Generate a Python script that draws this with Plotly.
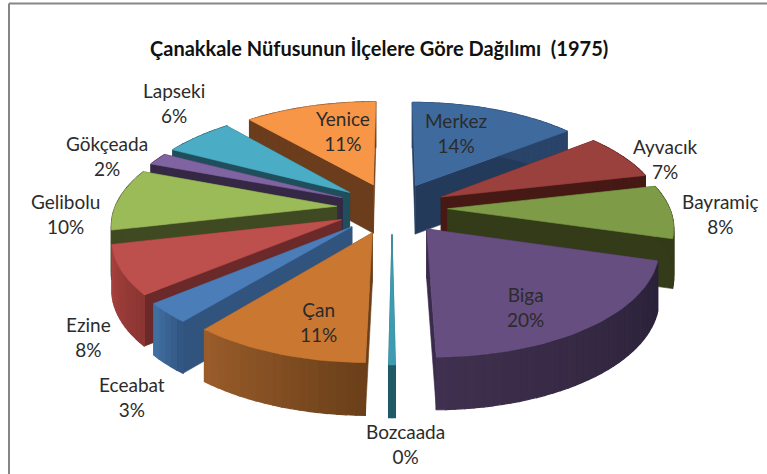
import math
import plotly.graph_objects as go

categories = ["Merkez", "Ayvacık", "Bayramiç", "Biga", "Bozcaada", "Çan",
              "Eceabat", "Ezine", "Gelibolu", "Gökçeada", "Lapseki", "Yenice"]
values = [14.3, 7.1, 8.2, 20.3, 0.4, 10.7, 3.0, 7.5, 9.5, 1.9, 6.0, 11.3]
percent_labels = ["14%", "7%", "8%", "20%", "0%", "11%", "3%", "8%", "10%", "2%", "6%", "11%"]

top_colors = ["#3E6A9E", "#9A403D", "#7E9B47", "#674E80", "#3E9CB2", "#C97731",
              "#4B7DB9", "#BD4F4C", "#9BBB59", "#8064A2", "#4BACC6", "#F79646"]
wall_colors = ["#243A5B", "#461914", "#333B18", "#3A2A4C", "#1F5A66", "#6A3F1A",
               "#31547F", "#6B2A29", "#404A22", "#342844", "#1F4F5C", "#6B3D1C"]
outer_start = ["#2A4368", "#461914", "#333B18", "#2A2138", "#1F5A66", "#6A3F1A",
               "#31547F", "#8A3532", "#404A22", "#342844", "#1F4F5C", "#6B3D1C"]
outer_end = ["#2A4368", "#461914", "#333B18", "#40304F", "#1F5A66", "#9A5D2A",
             "#4272A6", "#A8423F", "#404A22", "#342844", "#1F4F5C", "#6B3D1C"]

label_pos = [(456, 133), (665, 159), (720, 214), (525, 307), (405, 444), (318, 322),
             (132, 397), (88, 337), (65, 214), (107, 156), (174, 103), (343, 131)]

CX, CY, RX, RY, K, EXPLODE = 392.0, 208.0, 222.0, 102.0, 0.15, 0.25


def project(X, Y):
    s = 1.0 / (1.0 + K * Y)
    return CX + RX * X * s, CY - RY * Y * s


def depth(Y):
    return 49.0 - 3.0 * Y


def mix(c1, c2, t):
    a = [int(c1[i:i + 2], 16) for i in (1, 3, 5)]
    b = [int(c2[i:i + 2], 16) for i in (1, 3, 5)]
    return "rgb(%d,%d,%d)" % tuple(round(a[i] + (b[i] - a[i]) * t) for i in range(3))


def poly(fig, pts, color, width=0.6):
    fig.add_trace(go.Scatter(
        x=[p[0] for p in pts] + [pts[0][0]],
        y=[p[1] for p in pts] + [pts[0][1]],
        mode="lines", fill="toself", fillcolor=color,
        line=dict(color=color, width=width),
        hoverinfo="skip", showlegend=False))


total = sum(values)
slices = []
acc = 0.0
for i, v in enumerate(values):
    a0 = acc / total * 2 * math.pi
    acc += v
    a1 = acc / total * 2 * math.pi
    mid = (a0 + a1) / 2
    ox, oy = EXPLODE * math.sin(mid), EXPLODE * math.cos(mid)
    slices.append(dict(i=i, a0=a0, a1=a1, ox=ox, oy=oy))

fig = go.Figure()

# painter's order: far slices first
for sl in sorted(slices, key=lambda q: -(q["oy"] + 0.6 * math.cos((q["a0"] + q["a1"]) / 2))):
    i, a0, a1, ox, oy = sl["i"], sl["a0"], sl["a1"], sl["ox"], sl["oy"]
    n = max(2, int((a1 - a0) / math.radians(2)))
    arc = []
    for j in range(n + 1):
        a = a0 + (a1 - a0) * j / n
        arc.append((ox + math.sin(a), oy + math.cos(a)))
    apex = (ox, oy)

    def down(P):
        x, y = project(*P)
        return x, y + depth(P[1])

    for edge in (arc[0], arc[-1]):
        poly(fig, [project(*apex), project(*edge), down(edge), down(apex)], wall_colors[i])
    for j in range(n):
        P, Q = arc[j], arc[j + 1]
        poly(fig, [project(*P), project(*Q), down(Q), down(P)],
             mix(outer_start[i], outer_end[i], (j + 0.5) / n), width=1.2)
    poly(fig, [project(*apex)] + [project(*p) for p in arc], top_colors[i])

annotations = [dict(x=378.5, y=48, text="<b>Çanakkale Nüfusunun İlçelere Göre Dağılımı  (1975)</b>",
                    showarrow=False, font=dict(family="Lato", size=20, color="#111111"))]
for name, pct, (lx, ly) in zip(categories, percent_labels, label_pos):
    annotations.append(dict(x=lx, y=ly, text=f"{name}<br>{pct}", showarrow=False, align="center",
                            font=dict(family="Lato", size=19, color="#2b2b2b")))

fig.update_layout(
    width=767, height=474, margin=dict(l=0, r=0, t=0, b=0),
    paper_bgcolor="white", plot_bgcolor="white", showlegend=False,
    xaxis=dict(range=[0, 767], visible=False, fixedrange=True),
    yaxis=dict(range=[474, 0], visible=False, fixedrange=True),
    annotations=annotations,
    shapes=[dict(type="line", x0=9, x1=767, y0=3.5, y1=3.5, line=dict(color="#868686", width=2)),
            dict(type="line", x0=9, x1=9, y0=3.5, y1=474, line=dict(color="#868686", width=2))],
)
fig.write_html("out.html", config={"displayModeBar": False},
               post_script="document.body.style.margin='0';document.documentElement.style.overflow='hidden';")
